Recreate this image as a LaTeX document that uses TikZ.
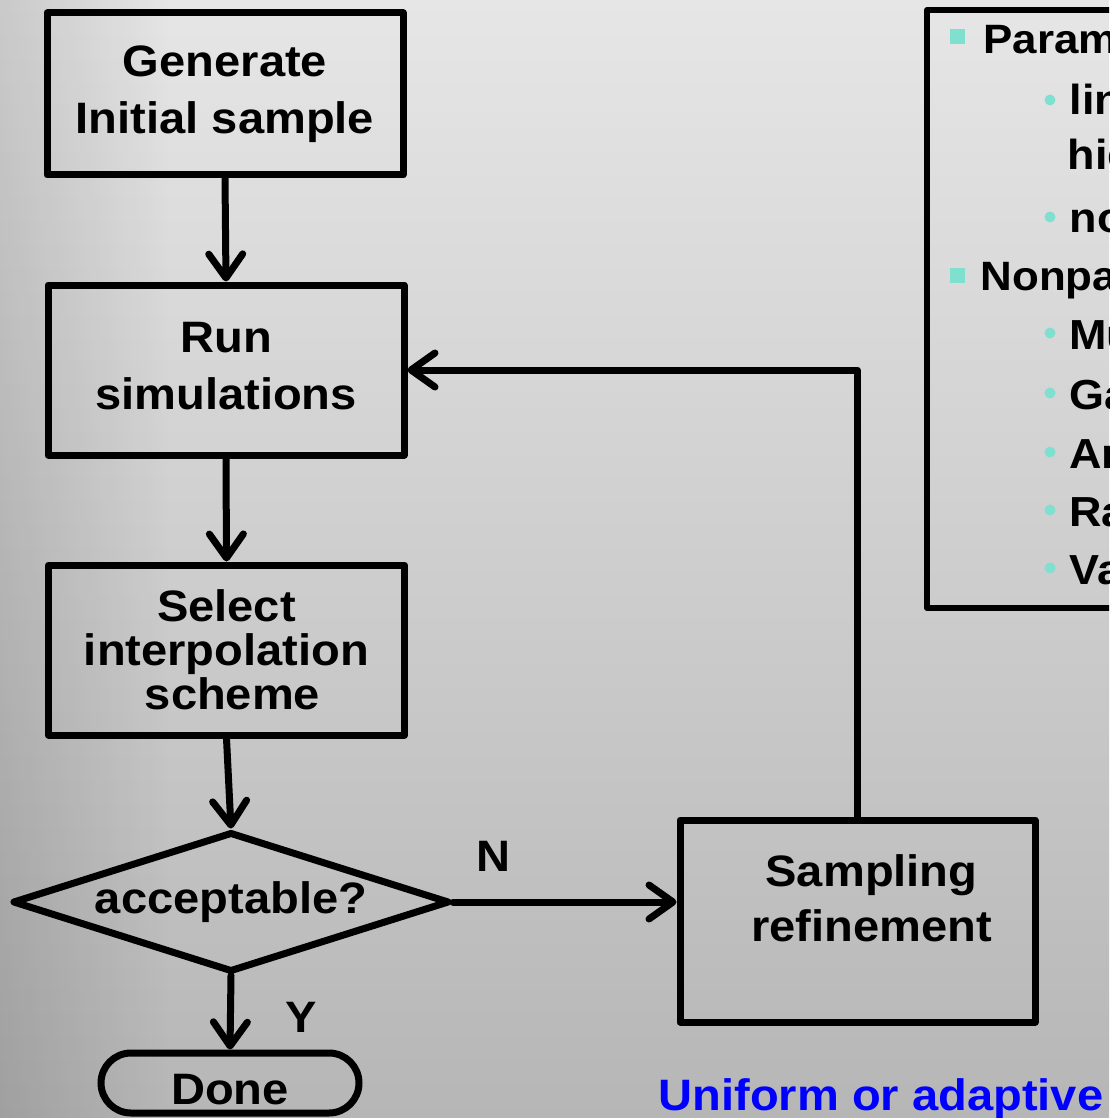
\documentclass[tikz,border=0pt]{standalone}
\usepackage{fontspec}
\setmainfont{Liberation Sans}[FakeStretch=1.07]
\usetikzlibrary{arrows.meta,shapes.geometric,shapes.misc,fadings}

\definecolor{bgtop}{RGB}{230,230,230}
\definecolor{bgbot}{RGB}{182,182,182}
\definecolor{bulletteal}{RGB}{128,224,208}
\definecolor{labelblue}{RGB}{0,0,255}

\begin{document}
\begin{tikzpicture}[x=1pt,y=-1pt,
  every node/.style={font=\bfseries\fontsize{44}{57}\selectfont, text=black},
  stepbox/.style={draw, line width=7pt, line join=round, rectangle,
    minimum width=356pt, align=center, inner sep=0pt},
  decision/.style={draw, line width=7pt, line join=round, diamond, aspect=3.1,
    inner sep=0pt, minimum width=437pt, minimum height=140pt},
  terminal/.style={draw, line width=7pt, rounded rectangle,
    minimum width=258pt, minimum height=60pt, inner sep=0pt},
  flow/.style={line width=7pt, line cap=round, line join=round,
    -{Straight Barb[length=24pt,width=34pt,round]}},
  listbox/.style={line width=6pt, line join=round},
  lvlone/.style={anchor=base west, font=\bfseries\fontsize{41}{48}\selectfont},
  lvltwo/.style={anchor=base west, font=\bfseries\fontsize{42}{50}\selectfont},
  sqbullet/.style={fill=bulletteal, minimum size=15pt, inner sep=0pt, rectangle},
  dotbullet/.style={fill=bulletteal, minimum size=11pt, inner sep=0pt, circle},
]
\useasboundingbox (0,0) rectangle (1109,1118);
\clip (0,0) rectangle (1109,1118);

% backdrop
\shade[top color=bgtop, bottom color=bgbot] (0,0) rectangle (1109,1118);
\fill[black, opacity=0.12, path fading=east] (0,0) rectangle (170,1118);

% flowchart steps
\node[stepbox, minimum height=162pt] (gen) at (225,94)
  {Generate\\Initial sample};
\node[stepbox, minimum height=170pt] (run) at (226,370)
  {Run\\simulations\rule[-8pt]{0pt}{0pt}};
\node[stepbox, minimum height=170pt, font=\bfseries\fontsize{44}{44}\selectfont] (sel) at (226.5,650)
  {Select\\interpolation\\\hspace*{12pt}scheme};
\node[decision] (dec) at (231,902) {acceptable?};
\node[terminal] (done) at (230,1083) {\rule{0pt}{44pt}Done};
\node[stepbox, minimum width=355pt, minimum height=202pt, font=\bfseries\fontsize{44}{55}\selectfont] (samp) at (857.5,921)
  {\hspace*{28pt}Sampling\\\hspace*{28pt}refinement\rule[-46pt]{0pt}{0pt}};

% connectors
\draw[flow] (gen.south) -- (run.north);
\draw[flow] (run.south) -- (sel.north);
\draw[flow] (sel.south) -- (dec.north);
\draw[flow] (dec.south) -- (done.north);
\draw[flow] (dec.east) -- (dec.east -| samp.west);
\draw[flow] (samp.north) |- (run.east);

\node (nlab) at (493,856) {N};
\node (ylab) at (301,1017) {Y};

% method list
\draw[listbox] (1120,10) -- (927,10) -- (927,608) -- (1120,608);
\node[sqbullet] (b1) at (957,37) {};
\node[lvlone] (t1) at (980,54) {Parametric};
\node[dotbullet] (b11) at (1050,100) {};
\node[lvltwo] (t11) at (1066,115) {linear};
\node[lvltwo] (t12) at (1064,170) {higher};
\node[dotbullet] (b13) at (1050,217) {};
\node[lvltwo] (t13) at (1066,232) {nonlinear};
\node[sqbullet] (b2) at (957,275) {};
\node[lvlone] (t2) at (977,290) {Nonparametric};
\foreach \y/\w/\n in {333/Multiquadric/a, 393/Gaussian/b, 452/Artificial/c, 510/Radial/d, 568/Variogram/e}{
  \node[dotbullet] (d\n) at (1050,\y) {};
  \node[lvltwo] (w\n) at (1066,\y+16) {\w};
}

\node[anchor=base west, text=labelblue] (mode) at (655,1110) {Uniform or adaptive};
\end{tikzpicture}
\end{document}
